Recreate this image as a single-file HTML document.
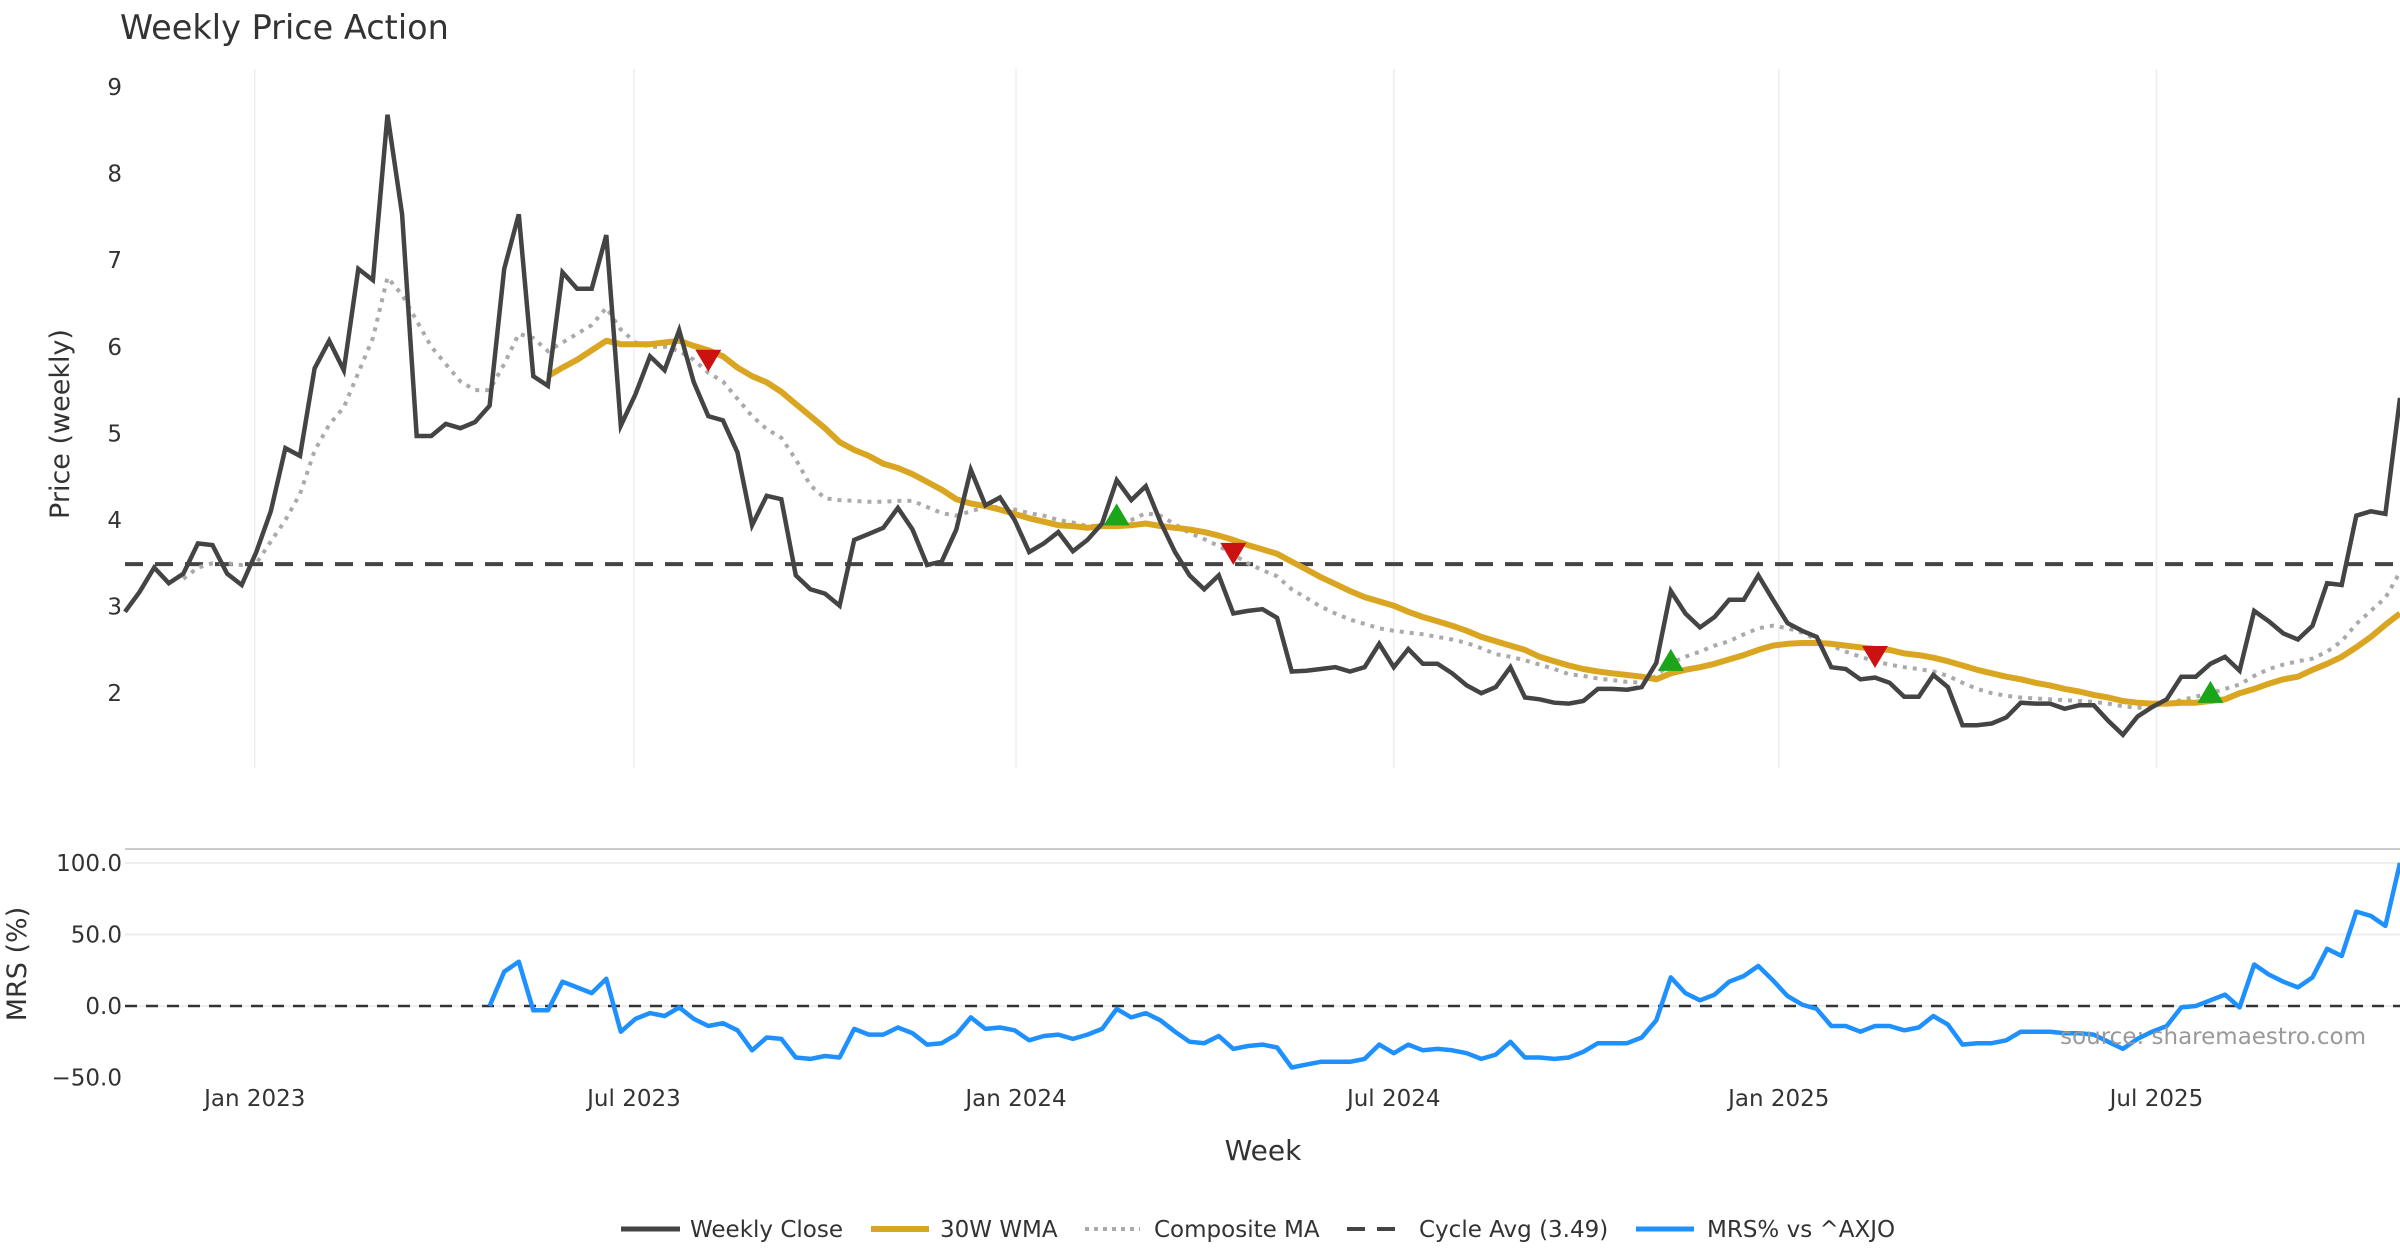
<!DOCTYPE html>
<html><head><meta charset="utf-8"><style>
html,body{margin:0;padding:0;background:#fff;}
svg{display:block;font-family:"DejaVu Sans","Liberation Sans",sans-serif;}
</style></head><body>
<svg id="chart" width="2400" height="1260" viewBox="0 0 2400 1260" xmlns="http://www.w3.org/2000/svg">
<text x="120" y="39" font-size="33.5" fill="#333">Weekly Price Action</text>
<g id="grid"></g><g id="series"></g><g id="axes"></g>
<text transform="translate(69,424) rotate(-90)" text-anchor="middle" font-size="27" fill="#333">Price (weekly)</text>
<text transform="translate(26,964) rotate(-90)" text-anchor="middle" font-size="27" fill="#333">MRS (%)</text>
<text x="1263" y="1160" text-anchor="middle" font-size="28" fill="#333">Week</text>
<text x="2366" y="1044" text-anchor="end" font-size="23" fill="#999">source: sharemaestro.com</text>
<g font-size="23" fill="#333">
 <g><line x1="621" x2="680" y1="1229" y2="1229" stroke="#444" stroke-width="5"/><text x="690" y="1237">Weekly Close</text></g>
 <g><line x1="871" x2="929" y1="1229" y2="1229" stroke="#DAA520" stroke-width="6"/><text x="940" y="1237">30W WMA</text></g>
 <g><line x1="1085" x2="1140" y1="1229" y2="1229" stroke="#aaa" stroke-width="4" stroke-dasharray="4,5"/><text x="1154" y="1237">Composite MA</text></g>
 <g><line x1="1347" x2="1405" y1="1229" y2="1229" stroke="#444" stroke-width="4" stroke-dasharray="18,12"/><text x="1419" y="1237">Cycle Avg (3.49)</text></g>
 <g><line x1="1636" x2="1694" y1="1229" y2="1229" stroke="#1E90FF" stroke-width="5"/><text x="1707" y="1237">MRS% vs ^AXJO</text></g>
</g>
</svg>
<script>
const closeVals=[2.94,3.17,3.45,3.27,3.38,3.73,3.71,3.38,3.25,3.63,4.10,4.83,4.74,5.75,6.07,5.73,6.90,6.77,8.68,7.53,4.97,4.97,5.11,5.06,5.13,5.32,6.90,7.53,5.66,5.55,6.86,6.67,6.67,7.29,5.09,5.45,5.89,5.73,6.19,5.59,5.20,5.15,4.78,3.94,4.28,4.24,3.36,3.20,3.15,3.01,3.77,3.84,3.91,4.14,3.89,3.48,3.52,3.89,4.58,4.17,4.26,4.00,3.63,3.73,3.86,3.64,3.77,3.96,4.46,4.23,4.39,3.98,3.63,3.36,3.20,3.36,2.92,2.95,2.97,2.87,2.25,2.26,2.28,2.30,2.25,2.30,2.57,2.30,2.51,2.34,2.34,2.23,2.09,2.00,2.07,2.30,1.95,1.93,1.89,1.88,1.91,2.05,2.05,2.04,2.07,2.35,3.18,2.92,2.76,2.88,3.08,3.08,3.36,3.08,2.81,2.72,2.65,2.30,2.28,2.16,2.18,2.12,1.96,1.96,2.21,2.07,1.63,1.63,1.65,1.72,1.89,1.88,1.88,1.82,1.86,1.86,1.68,1.52,1.73,1.84,1.93,2.19,2.19,2.34,2.42,2.26,2.95,2.83,2.69,2.62,2.78,3.27,3.25,4.05,4.10,4.07,5.41];
const wmaVals=[5.66,5.76,5.85,5.96,6.07,6.03,6.03,6.03,6.05,6.07,6.01,5.96,5.89,5.76,5.66,5.59,5.48,5.34,5.20,5.06,4.90,4.81,4.74,4.65,4.60,4.53,4.44,4.35,4.24,4.19,4.16,4.12,4.07,4.02,3.98,3.94,3.93,3.91,3.93,3.93,3.94,3.96,3.93,3.91,3.89,3.86,3.82,3.77,3.71,3.66,3.61,3.52,3.43,3.34,3.26,3.18,3.11,3.06,3.01,2.94,2.88,2.83,2.78,2.72,2.65,2.60,2.55,2.50,2.42,2.37,2.32,2.28,2.25,2.23,2.21,2.19,2.16,2.23,2.27,2.30,2.34,2.39,2.44,2.50,2.55,2.57,2.58,2.58,2.57,2.55,2.53,2.51,2.50,2.46,2.44,2.41,2.37,2.32,2.27,2.23,2.19,2.16,2.12,2.09,2.05,2.02,1.98,1.95,1.91,1.89,1.88,1.88,1.89,1.89,1.91,1.93,2.00,2.05,2.11,2.16,2.19,2.27,2.34,2.42,2.53,2.65,2.79,2.92];
const compVals=[3.32,3.45,3.5,3.5,3.48,3.5,3.75,4.0,4.3,4.8,5.1,5.3,5.7,6.1,6.8,6.6,6.3,6.0,5.8,5.6,5.5,5.5,5.8,6.15,6.1,5.95,6.05,6.15,6.25,6.45,6.2,6.05,6.0,6.0,5.95,5.85,5.7,5.6,5.4,5.2,5.05,4.95,4.7,4.4,4.25,4.23,4.22,4.21,4.21,4.22,4.22,4.15,4.08,4.05,4.1,4.15,4.15,4.12,4.08,4.05,4.0,3.97,3.93,3.93,3.95,4.0,4.08,4.05,3.95,3.85,3.78,3.7,3.6,3.5,3.42,3.35,3.2,3.1,3.0,2.92,2.85,2.8,2.75,2.72,2.7,2.68,2.65,2.62,2.58,2.52,2.45,2.42,2.38,2.33,2.28,2.22,2.2,2.17,2.15,2.13,2.12,2.2,2.35,2.42,2.48,2.55,2.6,2.68,2.75,2.78,2.75,2.7,2.62,2.55,2.48,2.42,2.37,2.33,2.3,2.28,2.25,2.2,2.12,2.05,2.0,1.97,1.95,1.94,1.93,1.92,1.91,1.9,1.88,1.85,1.83,1.85,1.88,1.92,1.96,2.0,2.05,2.1,2.2,2.28,2.33,2.37,2.4,2.48,2.6,2.8,2.95,3.1,3.4];
const mrsVals=[0,24,31,-3,-3,17,13,9,19,-18,-9,-5,-7,-1,-9,-14,-12,-17,-31,-22,-23,-36,-37,-35,-36,-16,-20,-20,-15,-19,-27,-26,-20,-8,-16,-15,-17,-24,-21,-20,-23,-20,-16,-2,-8,-5,-10,-18,-25,-26,-21,-30,-28,-27,-29,-43,-41,-39,-39,-39,-37,-27,-33,-27,-31,-30,-31,-33,-37,-34,-25,-36,-36,-37,-36,-32,-26,-26,-26,-22,-10,20,9,4,8,17,21,28,18,7,1,-2,-14,-14,-18,-14,-14,-17,-15,-7,-13,-27,-26,-26,-24,-18,-18,-18,-19,-19,-20,-25,-30,-23,-18,-14,-1,0,4,8,-1,29,22,17,13,20,40,35,66,63,56,100];
const sigIdx=[40,68,76,106,120,143];
const sigType=["down","up","down","up","down","up"];
const sigVals=[5.85,4.03,3.62,2.35,2.43,1.98];
const priceTicks=[2,3,4,5,6,7,8,9];
const mrsTicks=[100,50,0,-50];
const mrsTickLabels=["100.0","50.0","0.0","\u221250.0"];
const xTickWeeks=[8.9,34.9,61.1,87.0,113.4,139.3];
const xTickLabels=["Jan 2023","Jul 2023","Jan 2024","Jul 2024","Jan 2025","Jul 2025"];
const cycleAvg=3.49;

const NS="http://www.w3.org/2000/svg";
const N=closeVals.length;
const X0=125,X1=2400;
function xs(i){return X0+i*(X1-X0)/(N-1);}
function yp(v){return 87+(9-v)*86.6;}
function ym(v){return 1006-v*1.43;}
function mk(tag,attrs,parent){const e=document.createElementNS(NS,tag);for(const k in attrs)e.setAttribute(k,attrs[k]);parent.appendChild(e);return e;}
const grid=document.getElementById('grid'),ser=document.getElementById('series'),axes=document.getElementById('axes');

xTickWeeks.forEach((w,k)=>{
 const x=xs(w);
 const g1=mk('line',{x1:x,x2:x,y1:69,y2:768,stroke:'#eee','stroke-width':1.5},grid);
 
 
 const t=mk('text',{x:x,y:1106,'text-anchor':'middle','font-size':23,fill:'#333'},axes);
 t.textContent=xTickLabels[k];
 
 
});
priceTicks.forEach(v=>{
 const t=mk('text',{x:122,y:yp(v)+8,'text-anchor':'end','font-size':23,fill:'#333'},axes);
 t.textContent=String(v);
 
 
});
const border=mk('line',{x1:125,x2:2400,y1:849,y2:849,stroke:'#ccc','stroke-width':2},grid);


mrsTicks.forEach((v,k)=>{
 if(v>-50){const l=mk('line',{x1:125,x2:2400,y1:ym(v),y2:ym(v),stroke:'#eee','stroke-width':2},grid);
 
 }
 const t=mk('text',{x:122,y:ym(v)+8,'text-anchor':'end','font-size':23,fill:'#333'},axes);
 t.textContent=mrsTickLabels[k];
 
 
});
function path(vals,offset,yf){return vals.map((v,i)=>(i?'L':'M')+xs(i+offset).toFixed(1)+','+yf(v).toFixed(1)).join(' ');}
const ca=mk('line',{x1:125,x2:2400,y1:yp(cycleAvg),y2:yp(cycleAvg),stroke:'#444','stroke-width':4,'stroke-dasharray':'18,12'},ser);


const cm=mk('path',{d:path(compVals,N-compVals.length,yp),fill:'none',stroke:'#aaa','stroke-width':4,'stroke-dasharray':'4,6'},ser);


const wl=mk('path',{d:path(wmaVals,N-wmaVals.length,yp),fill:'none',stroke:'#DAA520','stroke-width':6,'stroke-linejoin':'round'},ser);


const cl=mk('path',{d:path(closeVals,0,yp),fill:'none',stroke:'#444','stroke-width':4.5,'stroke-linejoin':'miter'},ser);


sigIdx.forEach((ix,k)=>{
 const x=xs(ix),y=yp(sigVals[k]);
 const d=sigType[k]==='up'?`M${x-13},${y+8} L${x+13},${y+8} L${x},${y-14} Z`:`M${x-13},${y-10} L${x+13},${y-10} L${x},${y+12} Z`;
 const p=mk('path',{d:d,fill:sigType[k]==='up'?'#1aa51a':'#cc1111'},ser);
 
 
});
const zl=mk('line',{x1:125,x2:2400,y1:ym(0),y2:ym(0),stroke:'#333','stroke-width':2.5,'stroke-dasharray':'12,9'},ser);


const ml=mk('path',{d:path(mrsVals,N-mrsVals.length,ym),fill:'none',stroke:'#1E90FF','stroke-width':4.5,'stroke-linejoin':'round'},ser);


</script>
</body></html>
